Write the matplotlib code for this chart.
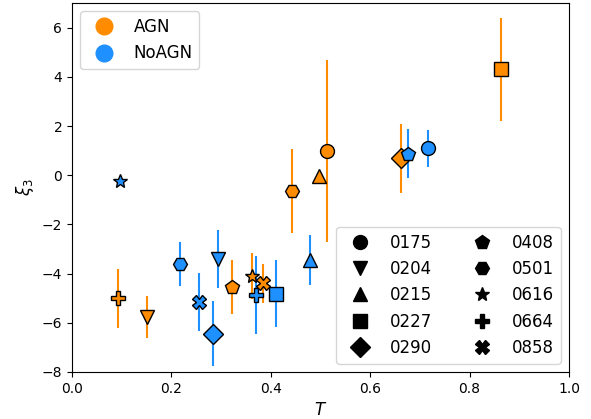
import matplotlib
matplotlib.use("Agg")
import matplotlib.pyplot as plt
from matplotlib.lines import Line2D

clusters = ["0175", "0204", "0215", "0227", "0290", "0408", "0501", "0616", "0664", "0858"]
markers = ["o", "v", "^", "s", "D", "p", "H", "*", "P", "X"]

# AGN run: T, xi_3, error
agn_T = [0.514, 0.151, 0.497, 0.863, 0.661, 0.322, 0.442, 0.362, 0.093, 0.384]
agn_xi = [1.0, -5.75, -0.05, 4.3, 0.68, -4.55, -0.65, -4.1, -5.0, -4.39]
agn_err = [3.7, 0.85, 0.0, 2.1, 1.42, 1.1, 1.7, 0.95, 1.2, 0.8]

# NoAGN run
noagn_T = [0.717, 0.294, 0.478, 0.410, 0.283, 0.677, 0.217, 0.097, 0.370, 0.256]
noagn_xi = [1.1, -3.4, -3.45, -4.81, -6.44, 0.88, -3.6, -0.24, -4.87, -5.14]
noagn_err = [0.75, 1.17, 1.0, 1.36, 1.32, 1.0, 0.9, 0.0, 1.6, 1.18]

agn_color = "darkorange"
noagn_color = "dodgerblue"

fig = plt.figure(figsize=(5.91, 4.19), dpi=100)
ax = fig.add_axes([0.1218, 0.1122, 0.841, 0.8806])

for i, m in enumerate(markers):
    ax.errorbar(agn_T[i], agn_xi[i], yerr=agn_err[i], marker=m, ms=10,
                color=agn_color, mec="k", mew=1, ecolor=agn_color, elinewidth=1.5)
    ax.errorbar(noagn_T[i], noagn_xi[i], yerr=noagn_err[i], marker=m, ms=10,
                color=noagn_color, mec="k", mew=1, ecolor=noagn_color, elinewidth=1.5)

ax.set_xlim(0, 1)
ax.set_ylim(-8, 7)
ax.set_xlabel("$T$", fontsize=12)
ax.set_ylabel(r"$\xi_3$", fontsize=12)

run_handles = [
    Line2D([], [], ls="", marker="o", ms=12, color=agn_color, label="AGN"),
    Line2D([], [], ls="", marker="o", ms=12, color=noagn_color, label="NoAGN"),
]
leg1 = ax.legend(handles=run_handles, loc="upper left", fontsize=12)
ax.add_artist(leg1)

cluster_handles = [Line2D([], [], ls="", marker=m, ms=10, color="k", label=c)
                   for m, c in zip(markers, clusters)]
ax.legend(handles=cluster_handles, loc="lower right", ncol=2, fontsize=12)

fig.savefig("out.png", dpi=100)
